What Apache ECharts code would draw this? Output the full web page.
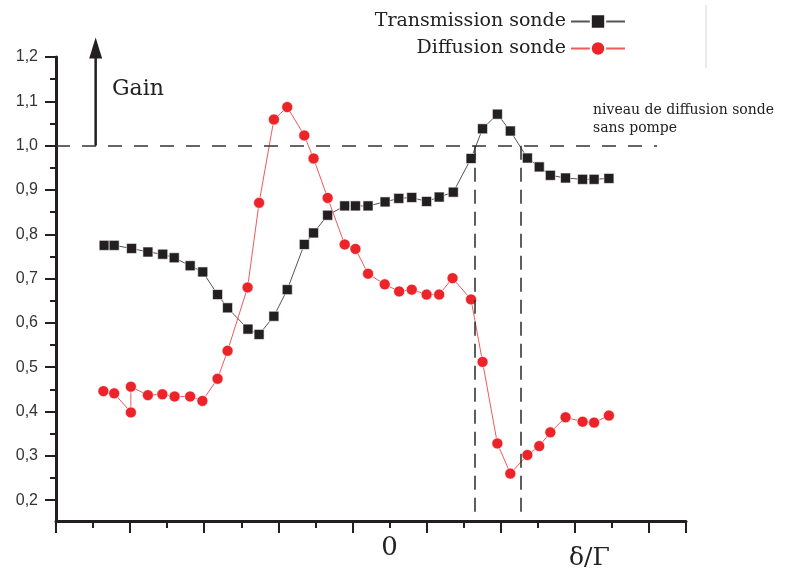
<!DOCTYPE html>
<html>
<head>
<meta charset="utf-8">
<script src="https://cdn.jsdelivr.net/npm/echarts@6/dist/echarts.min.js"></script>
<style>
  html, body { margin: 0; padding: 0; background: #fff; }
  #chart { width: 799px; height: 578px; }
</style>
</head>
<body>
<div id="chart"></div>
<script>
// detuning position (axis units, 2 units per major tick; 0 sits at 9)
const xTrans = [1.30, 1.57, 2.04, 2.48, 2.88, 3.19, 3.62, 3.96, 4.36, 4.63, 5.18, 5.48, 5.88, 6.24, 6.70, 6.95, 7.33, 7.79, 8.08, 8.42, 8.88, 9.25, 9.60, 10.00, 10.34, 10.72, 11.20, 11.51, 11.91, 12.26, 12.72, 13.04, 13.34, 13.75, 14.21, 14.52, 14.92];
const yTrans = [0.775, 0.775, 0.768, 0.760, 0.755, 0.747, 0.729, 0.715, 0.664, 0.634, 0.586, 0.574, 0.615, 0.675, 0.777, 0.803, 0.843, 0.864, 0.864, 0.864, 0.873, 0.881, 0.883, 0.874, 0.884, 0.895, 0.971, 1.038, 1.071, 1.033, 0.972, 0.952, 0.933, 0.927, 0.924, 0.924, 0.926];

const xDiff = [1.28, 1.57, 2.02, 2.02, 2.48, 2.87, 3.20, 3.62, 3.95, 4.36, 4.63, 5.17, 5.48, 5.88, 6.24, 6.70, 6.95, 7.33, 7.79, 8.08, 8.42, 8.87, 9.26, 9.60, 10.00, 10.34, 10.70, 11.20, 11.51, 11.91, 12.26, 12.72, 13.04, 13.34, 13.75, 14.21, 14.52, 14.92];
const yDiff = [0.446, 0.441, 0.398, 0.456, 0.437, 0.439, 0.434, 0.434, 0.424, 0.474, 0.537, 0.680, 0.871, 1.059, 1.087, 1.023, 0.971, 0.882, 0.777, 0.767, 0.711, 0.687, 0.671, 0.675, 0.664, 0.664, 0.701, 0.653, 0.512, 0.328, 0.260, 0.302, 0.322, 0.353, 0.387, 0.377, 0.375, 0.391];

const xMajorTicks = [0, 2, 4, 6, 8, 10, 12, 14, 16, 17];
const xMinorTicks = [1, 3, 5, 7, 9, 11, 13, 15];
const zeroPos = 9;
const yMajorTicks = [0.2, 0.3, 0.4, 0.5, 0.6, 0.7, 0.8, 0.9, 1.0, 1.1, 1.2];
const yMinorTicks = [0.25, 0.35, 0.45, 0.55, 0.65, 0.75, 0.85, 0.95, 1.05, 1.15];

// reference lines
const levelY = 1.0;
const levelEnd = 16.22;
const bandEdges = [11.31, 12.54];
const bandBottom = 0.164;
const gainX = 1.07;
const gainTop = 1.244;

const serif = 'DejaVu Serif';
const ink = '#231f20';

const chart = echarts.init(document.getElementById('chart'));

const bandLines = bandEdges.map(x => [
  { coord: [x, levelY], lineStyle: { type: [14, 8], color: '#2a2a2a', width: 1.5 } },
  { coord: [x, bandBottom] }
]);

const legendBase = {
  right: 173,
  padding: 0,
  align: 'right',
  itemWidth: 54, itemHeight: 18,
  textStyle: { fontFamily: serif, fontSize: 19, color: '#222' }
};

const option = {
  animation: false,
  backgroundColor: '#fff',
  grid: { left: 56, right: 113, top: 57, bottom: 57 },
  legend: [
    Object.assign({ data: ['Transmission sonde'], top: 12 }, legendBase),
    Object.assign({ data: ['Diffusion sonde'], top: 39 }, legendBase)
  ],
  xAxis: [
    {
      type: 'value', min: 0, max: 17, position: 'bottom',
      axisLine: { show: true, onZero: false, lineStyle: { color: ink, width: 3 } },
      axisTick: { show: true, customValues: xMajorTicks, length: 12, lineStyle: { color: ink, width: 2 } },
      axisLabel: { show: false },
      splitLine: { show: false }
    },
    {
      type: 'value', min: 0, max: 17, position: 'bottom',
      axisLine: { show: false, onZero: false },
      axisTick: { show: true, customValues: xMinorTicks, length: 7, lineStyle: { color: ink, width: 2 } },
      axisLabel: {
        show: true, customValues: [zeroPos], formatter: () => '0',
        margin: 14, fontFamily: serif, fontSize: 26, color: '#222'
      },
      splitLine: { show: false }
    }
  ],
  yAxis: [
    {
      type: 'value', min: 0.153, max: 1.2, position: 'left',
      axisLine: { show: true, onZero: false, lineStyle: { color: ink, width: 3 } },
      axisTick: { show: true, customValues: yMajorTicks, length: 11, lineStyle: { color: ink, width: 2 } },
      axisLabel: {
        show: true, customValues: yMajorTicks,
        formatter: v => v.toFixed(1).replace('.', ','),
        margin: 18, fontFamily: 'Liberation Sans', fontSize: 16, color: '#333'
      },
      splitLine: { show: false }
    },
    {
      type: 'value', min: 0.153, max: 1.2, position: 'left',
      axisLine: { show: false, onZero: false },
      axisTick: { show: true, customValues: yMinorTicks, length: 6, lineStyle: { color: ink, width: 2 } },
      axisLabel: { show: false },
      splitLine: { show: false }
    }
  ],
  series: [
    {
      name: 'Transmission sonde',
      type: 'line',
      data: xTrans.map((x, i) => [x, yTrans[i]]),
      symbol: 'rect',
      symbolSize: 10,
      itemStyle: { color: ink, borderColor: '#fff', borderWidth: 0.6 },
      lineStyle: { color: '#555', width: 1 },
      z: 3,
      markLine: {
        silent: true,
        symbol: 'none',
        label: { show: false },
        emphasis: { disabled: true },
        data: [
          [
            { coord: [0, levelY], lineStyle: { type: [14, 12], color: '#333', width: 1.5 } },
            { coord: [levelEnd, levelY] }
          ],
          ...bandLines
        ]
      }
    },
    {
      name: 'Diffusion sonde',
      type: 'line',
      data: xDiff.map((x, i) => [x, yDiff[i]]),
      symbol: 'circle',
      symbolSize: 11,
      itemStyle: { color: '#ec2329', borderColor: '#fff', borderWidth: 0.6 },
      lineStyle: { color: '#f05a5a', width: 1 },
      z: 4
    }
  ]
};

chart.setOption(option);

// gain arrow above the 1,0 level, placed through the axis scale
const base = chart.convertToPixel({ gridIndex: 0 }, [gainX, levelY]);
const tip = chart.convertToPixel({ gridIndex: 0 }, [gainX, gainTop]);

chart.setOption({
  graphic: [
    {
      id: 'gainText', type: 'text', left: 112, top: 78,
      style: { text: 'Gain', font: '22px "DejaVu Serif"', fill: '#222' }
    },
    {
      id: 'levelText', type: 'text', left: 593, top: 101,
      style: {
        text: 'niveau de diffusion sonde\nsans pompe',
        font: '14px "DejaVu Serif"', lineHeight: 18, fill: '#222'
      }
    },
    {
      id: 'axisName', type: 'text', left: 569, top: 546,
      style: { text: 'δ/Γ', font: '25px "DejaVu Serif"', fill: '#222' }
    },
    {
      id: 'sep', type: 'line', shape: { x1: 706, y1: 5, x2: 706, y2: 68 },
      style: { stroke: '#d6d6d6', lineWidth: 1 }
    },
    {
      id: 'arrowShaft', type: 'line', z: 10,
      shape: { x1: base[0], y1: base[1], x2: tip[0], y2: tip[1] + 18 },
      style: { stroke: ink, lineWidth: 2.5 }
    },
    {
      id: 'arrowHead', type: 'polygon', z: 10,
      shape: { points: [[tip[0], tip[1]], [tip[0] - 6.5, tip[1] + 21], [tip[0] + 6.5, tip[1] + 21]] },
      style: { fill: ink }
    }
  ]
});
</script>
</body>
</html>
